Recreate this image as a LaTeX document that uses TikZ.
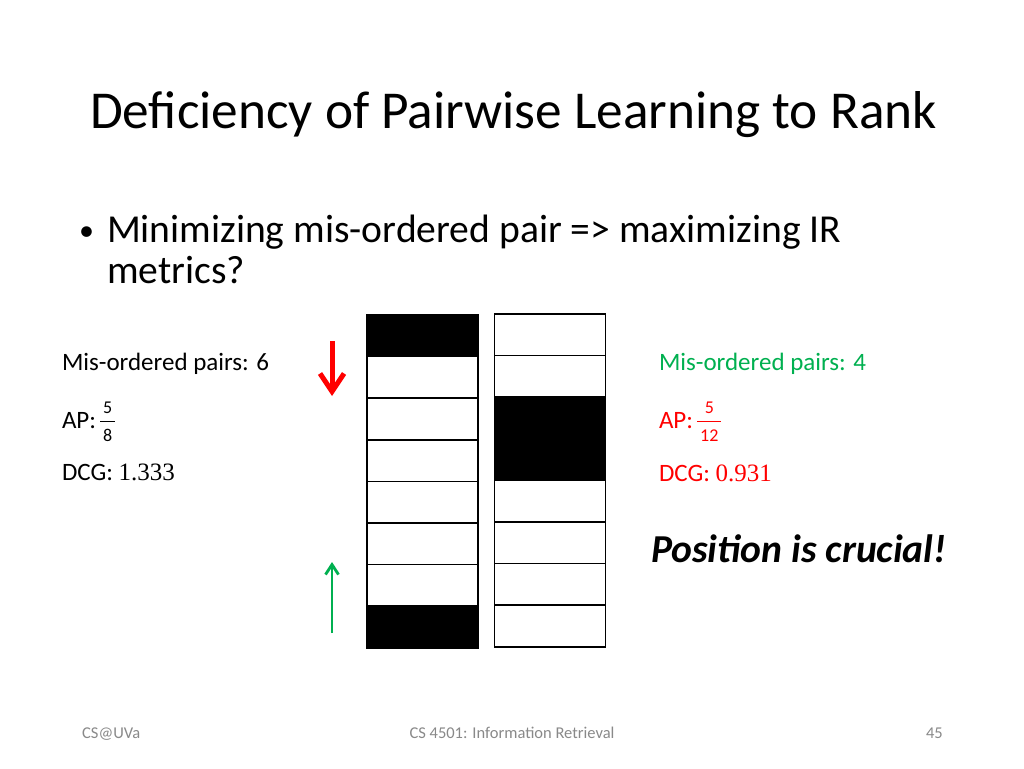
\documentclass[tikz,border=0pt]{standalone}
\usepackage{fontspec}
\setmainfont{Carlito}
\newfontfamily\numfont{Liberation Serif}
\usetikzlibrary{arrows.meta}
\definecolor{okgreen}{HTML}{00B050}
\definecolor{badred}{HTML}{FF0000}
\definecolor{footgray}{HTML}{898989}
\newcommand{\smallfr}[2]{{\fontsize{18}{18}\selectfont
  \setbox1=\hbox{\,#1\,}\setbox2=\hbox{\,#2\,}%
  \dimen0=\ifdim\wd1>\wd2 \wd1\else\wd2\fi
  \rlap{\raisebox{15pt}{\hbox to\dimen0{\hss\box1\hss}}}%
  \rlap{\raisebox{6pt}{\rule{\dimen0}{1.1pt}}}%
  \raisebox{-13pt}{\hbox to\dimen0{\hss\box2\hss}}}}
\tikzset{
  txt/.style={anchor=base west, inner sep=0pt, outer sep=0pt},
  lbl/.style={txt, font=\fontsize{25}{30}\selectfont},
  foot/.style={inner sep=0pt, font=\fontsize{16.5}{20}\selectfont, text=footgray},
  cell/.style={draw=black, line width=1.6pt, minimum width=111pt, minimum height=41.6pt, inner sep=0pt, fill=white},
  blk/.style={cell, fill=black},
}
\begin{document}
\begin{tikzpicture}[x=1pt,y=-1pt]
\useasboundingbox[fill=white] (0,0) rectangle (1024,768);
% title
\node[txt, font=\fontsize{53.3}{64}\selectfont] (title) at (90,128) {Deficiency of Pairwise Learning to Rank};
% bullet
\node[txt, font=\fontsize{30}{36}\selectfont] (bul) at (79,240) {\textbullet};
\node[txt, font=\fontsize{39.6}{47}\selectfont] (b1) at (107,242) {Minimizing mis-ordered pair => maximizing IR};
\node[txt, font=\fontsize{39.6}{47}\selectfont] (b2) at (107,283) {metrics?};
% left labels
\node[lbl] (lm) at (62,370) {Mis-ordered pairs: 6};
\node[lbl] (lap) at (62,428) {AP:\,\smallfr{5}{8}};
\node[lbl] (ldcg) at (62,480) {DCG: {\numfont 1.333}};
% right labels
\node[lbl, text=okgreen] (rm) at (659,370) {Mis-ordered pairs: 4};
\node[lbl, text=badred] (rap) at (659,428) {AP:\,\smallfr{5}{12}};
\node[lbl, text=badred] (rdcg) at (659,481) {DCG: {\numfont 0.931}};
% position
\node[txt, font=\fontsize{39.6}{47}\selectfont\bfseries\itshape] (pos) at (651,562) {Position is crucial!};
% columns
\foreach \i in {1,...,8} {
  \pgfmathsetmacro{\yy}{315+41.6*(\i-0.5)}
  \pgfmathsetmacro{\yr}{314+41.6*(\i-0.5)}
  \ifnum\i=1 \node[blk] (L\i) at (422.5,\yy) {};
  \else\ifnum\i=8 \node[blk] (L\i) at (422.5,\yy) {};
  \else \node[cell] (L\i) at (422.5,\yy) {};
  \fi\fi
  \ifnum\i=3 \node[blk] (R\i) at (550,\yr) {};
  \else\ifnum\i=4 \node[blk] (R\i) at (550,\yr) {};
  \else \node[cell] (R\i) at (550,\yr) {};
  \fi\fi
}
% arrows
\coordinate (ra) at (332,341);
\coordinate (rb) at (332,396);
\coordinate (ga) at (332,633);
\coordinate (gb) at (332,562);
\draw[badred, line width=5pt, -{Straight Barb[length=18pt,width=24pt]}] (ra) -- (rb);
\draw[okgreen, line width=2.8pt, -{Straight Barb[length=10pt,width=13pt]}] (ga) -- (gb);
% footer
\node[foot, anchor=base west] (f1) at (82,738) {CS@UVa};
\node[foot, anchor=base] (f2) at (512,738) {CS 4501: Information Retrieval};
\node[foot, anchor=base east] (f3) at (943,738) {45};
\end{tikzpicture}
\end{document}
